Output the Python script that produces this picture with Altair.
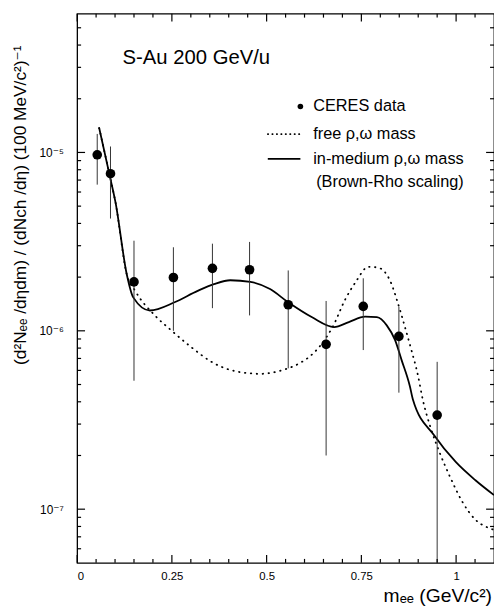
import altair as alt
import pandas as pd

# ---- data ----
ceres_m = [0.053, 0.088, 0.150, 0.254, 0.357, 0.455, 0.557, 0.657, 0.755, 0.849, 0.950]
ceres_y = [9.7e-6, 7.6e-6, 1.88e-6, 1.99e-6, 2.24e-6, 2.20e-6, 1.40e-6, 8.4e-7, 1.37e-6, 9.3e-7, 3.37e-7]
ceres_hi = [1.27e-5, 1.08e-5, 3.2e-6, 2.94e-6, 3.08e-6, 3.15e-6, 2.18e-6, 1.47e-6, 1.97e-6, 1.36e-6, 6.7e-7]
ceres_lo = [6.6e-6, 4.26e-6, 5.25e-7, 1.0e-6, 1.34e-6, 1.22e-6, 6.16e-7, 2.0e-7, 7.8e-7, 4.5e-7, 5e-8]

med_m = [0.058, 0.088, 0.101, 0.131, 0.148, 0.192, 0.257, 0.318, 0.361, 0.404, 0.457, 0.509,
         0.557, 0.620, 0.678, 0.717, 0.760, 0.791, 0.817, 0.839, 0.856, 0.878, 0.886, 0.943,
         0.999, 1.051, 1.100]
med_y = [1.375e-5, 7.09e-6, 5.28e-6, 2.07e-6, 1.54e-6, 1.30e-6, 1.445e-6, 1.675e-6, 1.826e-6,
         1.921e-6, 1.88e-6, 1.714e-6, 1.445e-6, 1.19e-6, 1.05e-6, 1.12e-6, 1.20e-6, 1.193e-6,
         1.073e-6, 8.86e-7, 6.87e-7, 4.89e-7, 4.12e-7, 2.58e-7, 1.84e-7, 1.453e-7, 1.2e-7]

free_m = [0.058, 0.088, 0.101, 0.131, 0.153, 0.205, 0.248, 0.300, 0.361, 0.422, 0.483, 0.544,
          0.587, 0.613, 0.639, 0.674, 0.708, 0.734, 0.769, 0.795, 0.826, 0.847, 0.865, 0.882,
          0.899, 0.912, 0.934, 0.956, 0.986, 1.016, 1.051, 1.086, 1.100]
free_y = [1.375e-5, 7.09e-6, 5.28e-6, 2.07e-6, 1.677e-6, 1.22e-6, 1.007e-6, 8.13e-7, 6.58e-7,
          5.91e-7, 5.74e-7, 6.04e-7, 6.58e-7, 7.16e-7, 8.13e-7, 1.05e-6, 1.508e-6, 1.864e-6,
          2.286e-6, 2.257e-6, 1.905e-6, 1.416e-6, 1.05e-6, 7.8e-7, 5.67e-7, 4.12e-7, 2.81e-7,
          2.09e-7, 1.486e-7, 1.104e-7, 8.73e-8, 7.85e-8, 7.66e-8]

x_label_values = [0, 0.25, 0.5, 0.75, 1]
x_minor_values = [0.05, 0.1, 0.15, 0.2, 0.3, 0.35, 0.4, 0.45, 0.55, 0.6, 0.65,
                  0.7, 0.8, 0.85, 0.9, 0.95, 1.05]
y_label_values = [1e-7, 1e-6, 1e-5]
y_minor_values = [6e-8, 7e-8, 8e-8, 9e-8,
                  2e-7, 3e-7, 4e-7, 5e-7, 6e-7, 7e-7, 8e-7, 9e-7,
                  2e-6, 3e-6, 4e-6, 5e-6, 6e-6, 7e-6, 8e-6, 9e-6,
                  2e-5, 3e-5, 4e-5, 5e-5]

FONT = "Liberation Sans, Arial, Helvetica, DejaVu Sans, sans-serif"
W, H = 422, 556
MAJOR, MINOR = 8, 4

ceres = pd.DataFrame({"m": ceres_m, "y": ceres_y, "hi": ceres_hi, "lo": ceres_lo})
med = pd.DataFrame({"m": med_m, "y": med_y})
free = pd.DataFrame({"m": free_m, "y": free_y})
one = pd.DataFrame({"a": [0]})

XS = alt.Scale(domain=[0, 1.1], nice=False, zero=False)
YS = alt.Scale(type="log", domain=[5e-8, 6e-5], nice=False)

y_label_expr = ("'10' + (round(log(datum.value)/LN10) == -5 ? '⁻⁵' : "
                "round(log(datum.value)/LN10) == -6 ? '⁻⁶' : '⁻⁷')")

solid = alt.Chart(med).mark_line(color="black", strokeWidth=1.8, interpolate="monotone").encode(
    x=alt.X("m:Q", scale=XS, axis=alt.Axis(orient="bottom", values=x_label_values, format=".2~f",
                                           ticks=False, domain=False, grid=False, title=None,
                                           labelFont=FONT, labelFontSize=11.5, labelPadding=8,
                                           labelColor="black")),
    y=alt.Y("y:Q", scale=YS, axis=alt.Axis(orient="left", values=y_label_values,
                                           labelExpr=y_label_expr,
                                           ticks=False, domain=False, grid=False, title=None,
                                           labelFont=FONT, labelFontSize=12, labelPadding=14,
                                           labelColor="black")),
)

dotted = alt.Chart(free).mark_line(color="black", strokeWidth=1.8, strokeDash=[0.5, 5.5],
                                   strokeCap="round", interpolate="monotone").encode(
    x=alt.X("m:Q"), y=alt.Y("y:Q"),
)

bars = alt.Chart(ceres).mark_rule(color="#333", strokeWidth=1.0).encode(
    x="m:Q", y="lo:Q", y2="hi:Q",
)

points = alt.Chart(ceres).mark_point(filled=True, color="black", opacity=1, size=95).encode(
    x="m:Q", y="y:Q",
)

# inward-pointing ticks, placed by the chart's own scales (mark_tick centred half a length inside)
def x_ticks(values, length):
    df = pd.DataFrame({"m": values})
    bottom = alt.Chart(df).mark_tick(color="black", thickness=1.2, size=length, orient="vertical",
                                     opacity=1).encode(x="m:Q", y=alt.value(H - length / 2))
    top = alt.Chart(df).mark_tick(color="black", thickness=1.2, size=length, orient="vertical",
                                  opacity=1).encode(x="m:Q", y=alt.value(length / 2))
    return [bottom, top]

def y_ticks(values, length):
    df = pd.DataFrame({"y": values})
    left = alt.Chart(df).mark_tick(color="black", thickness=1.2, size=length, orient="horizontal",
                                   opacity=1).encode(y="y:Q", x=alt.value(length / 2))
    right = alt.Chart(df).mark_tick(color="black", thickness=1.2, size=length, orient="horizontal",
                                    opacity=1).encode(y="y:Q", x=alt.value(W - length / 2))
    return [left, right]

ticks = (x_ticks(x_label_values, MAJOR) + x_ticks(x_minor_values, MINOR)
         + y_ticks(y_label_values, MAJOR) + y_ticks(y_minor_values, MINOR))

def txt(s, x, y, size, align="left", angle=0, baseline="middle"):
    kw = dict(text=s, font=FONT, fontSize=size, align=align, baseline=baseline, color="black")
    if angle:
        kw["angle"] = angle
    return alt.Chart(one).mark_text(**kw).encode(x=alt.value(x), y=alt.value(y))

title = txt("S-Au 200 GeV/u", 46, 45, 20.5)
ytitle = txt("(d²Nₑₑ /dηdm) / (dNch /dη) (100 MeV/c²)⁻¹", -57, 194, 17.5, align="center", angle=270)
xtitle = txt("mₑₑ (GeV/c²)", 420, 590, 19.5, align="right")

leg_dot = alt.Chart(one).mark_point(filled=True, color="black", opacity=1, size=32).encode(
    x=alt.value(226), y=alt.value(94))
leg_dotted = alt.Chart(one).mark_rule(color="black", strokeWidth=1.6, strokeDash=[0.5, 4],
                                      strokeCap="round").encode(
    x=alt.value(193), x2=alt.value(226), y=alt.value(122))
leg_solid = alt.Chart(one).mark_rule(color="black", strokeWidth=1.8).encode(
    x=alt.value(193), x2=alt.value(226), y=alt.value(147))
t1 = txt("CERES data", 239, 94, 16.5)
t2 = txt("free ρ,ω mass", 239, 122, 16.5)
t3 = txt("in-medium ρ,ω mass", 239, 147, 16.5)
t4 = txt("(Brown-Rho scaling)", 242, 170, 16.5)

chart = alt.layer(
    solid, dotted, bars, points, *ticks,
    title, ytitle, xtitle, leg_dot, leg_dotted, leg_solid, t1, t2, t3, t4,
).properties(
    width=W, height=H, autosize="none",
    padding={"left": 70, "top": 2, "right": 0, "bottom": 45},
).configure_view(stroke="black", strokeWidth=1.3)

chart.save("out.html", embed_options={"renderer": "svg", "actions": False})
